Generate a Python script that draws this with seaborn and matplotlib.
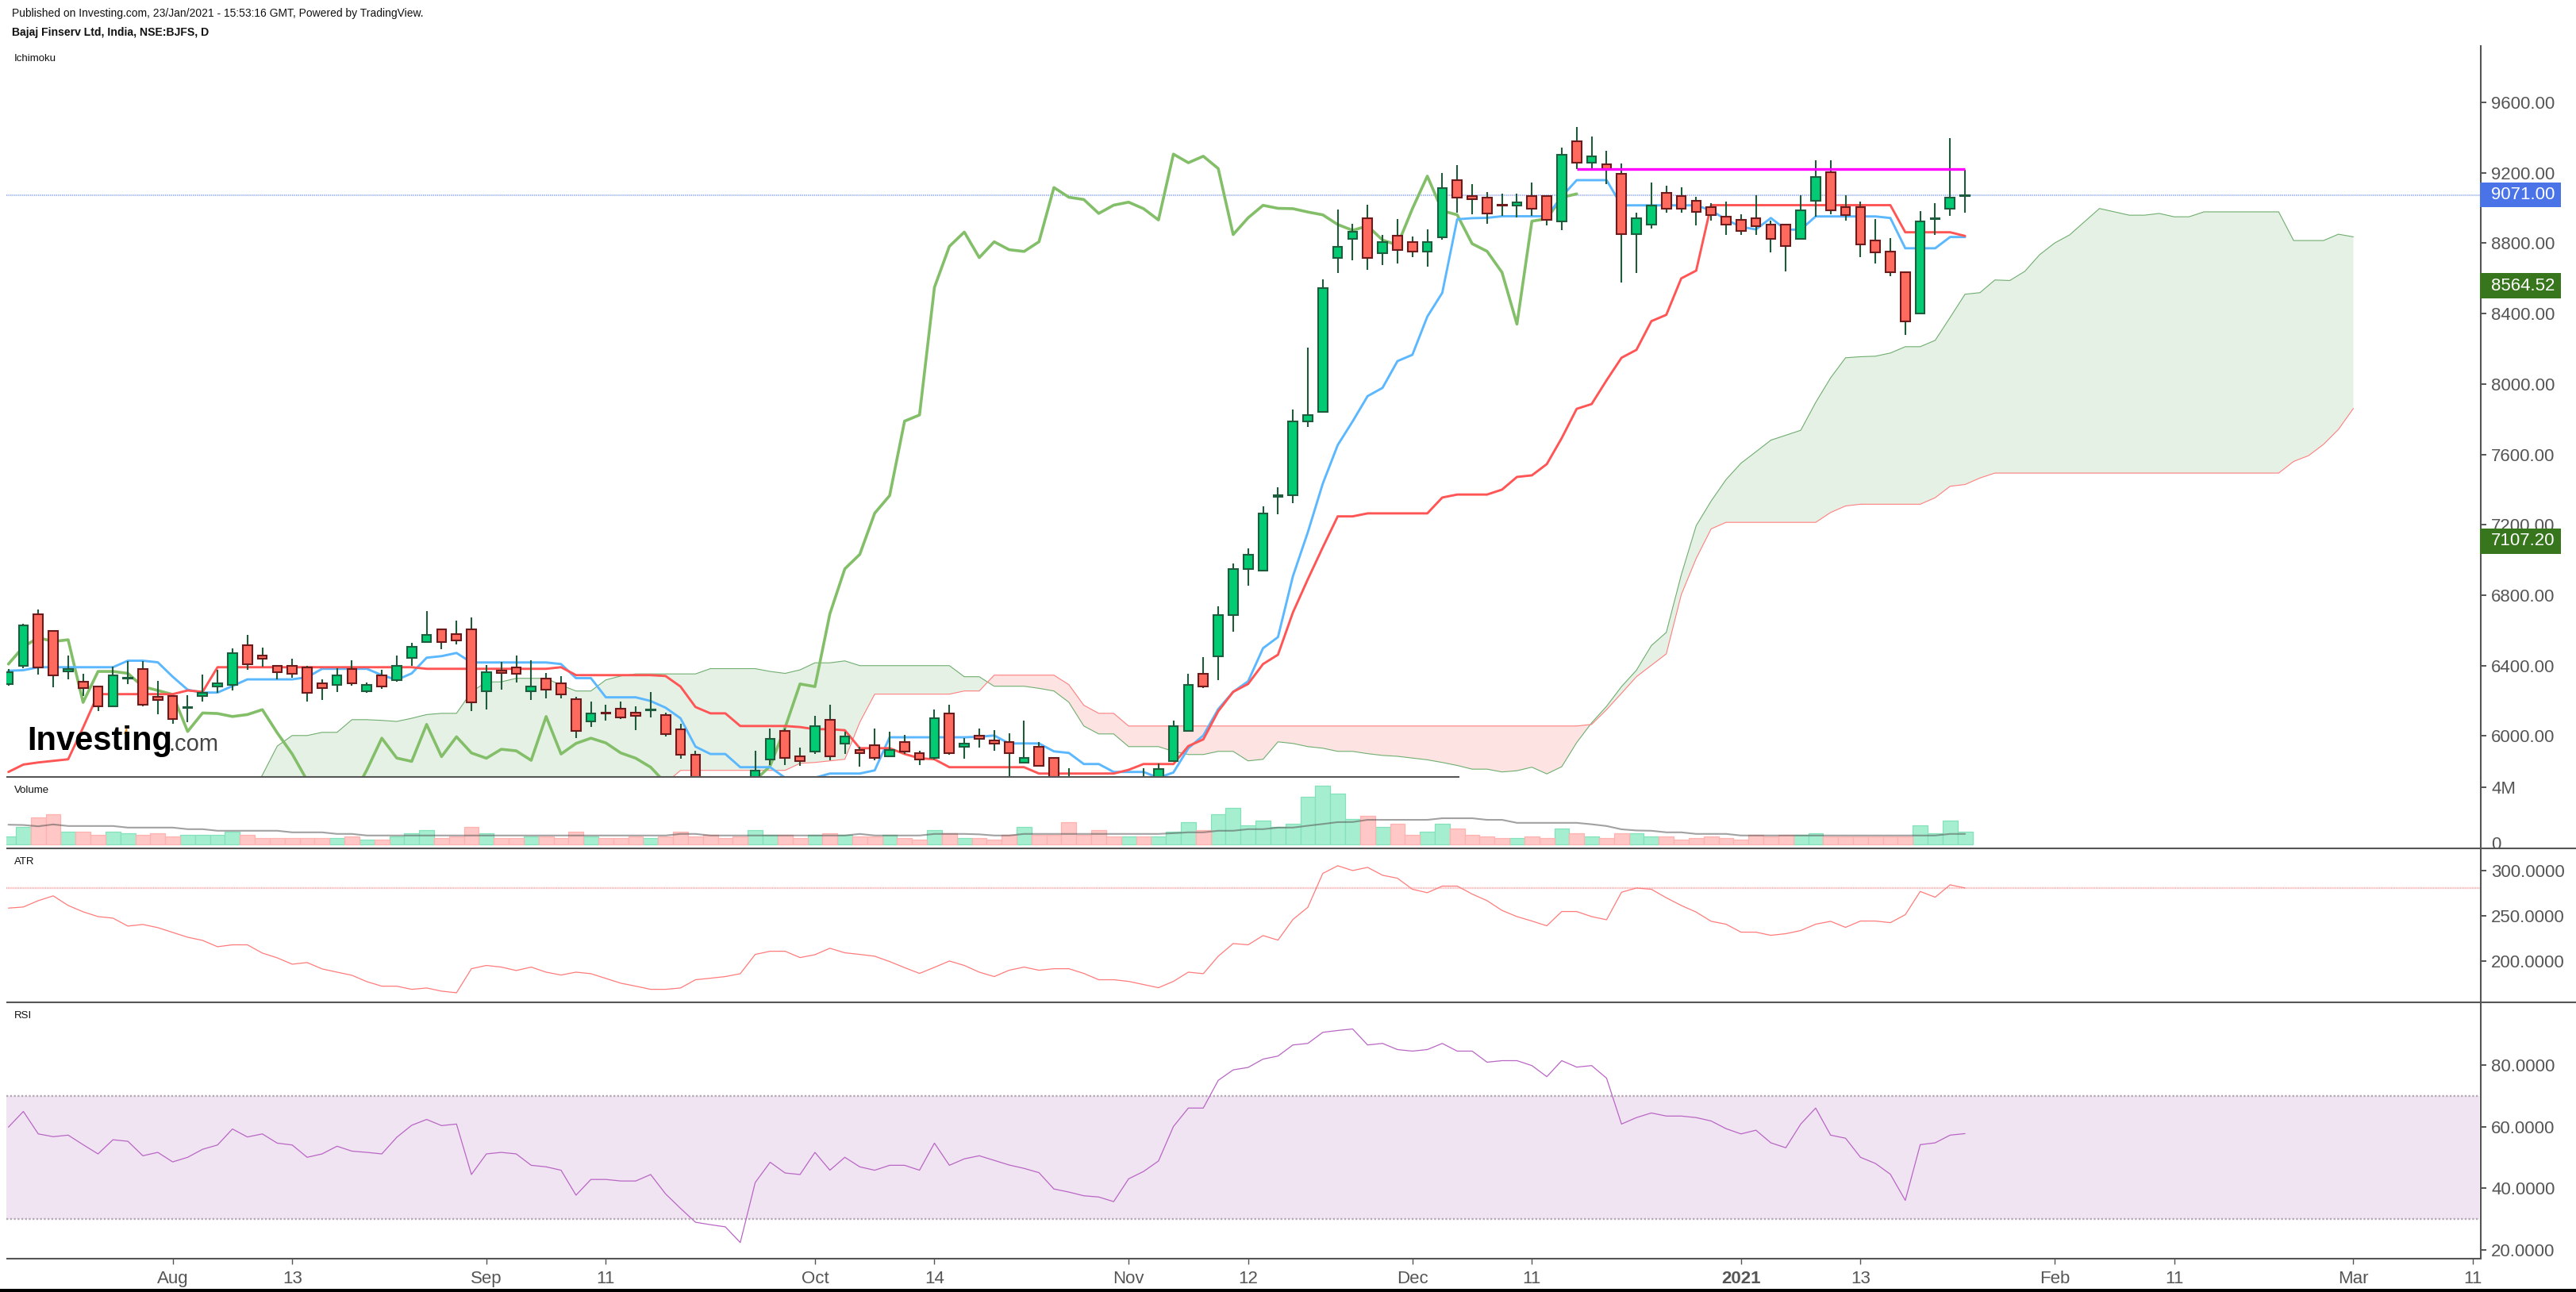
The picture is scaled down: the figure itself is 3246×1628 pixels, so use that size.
import numpy as np
import matplotlib
matplotlib.use("Agg")
import matplotlib.pyplot as plt
from matplotlib.lines import Line2D
from matplotlib.patches import Rectangle, Polygon
from matplotlib.transforms import Bbox, TransformedBbox
import seaborn as sns

# ---------- data ----------
opens = [6296,6397,6690,6598,6368,6310,6283,6171,6325,6382,
         6223,6229,6162,6226,6280,6289,6517,6456,6400,6400,
         6391,6301,6289,6382,6253,6346,6319,6442,6532,6607,
         6580,6607,6253,6374,6391,6253,6328,6301,6211,6081,
         6131,6156,6131,6145,6120,6039,5895,5700,5690,5680,
         5700,5868,6030,5886,5910,6093,5955,5922,5949,5883,
         5967,5904,5874,6129,5937,6003,5976,5967,5847,5940,
         5877,5720,5700,5690,5680,5640,5760,5740,5856,6027,
         6355,6451,6689,6948,6939,7360,7370,7786,7840,8715,
         8823,8942,8742,8842,8808,8751,8832,9158,9068,9060,
         9017,9013,9068,9068,8922,9377,9256,9250,9195,8850,
         8904,9087,9069,9042,9006,8952,8934,8943,8907,8907,
         8823,9039,9204,9006,9006,8817,8753,8636,8399,8939,
         8994,9070]
closes = [6364,6627,6388,6343,6383,6271,6171,6346,6330,6180,
          6206,6099,6166,6247,6301,6472,6406,6440,6361,6352,
          6244,6271,6346,6298,6292,6280,6400,6508,6573,6532,
          6541,6190,6364,6359,6352,6283,6262,6235,6027,6129,
          6127,6108,6116,6149,6009,5892,5733,5660,5650,5640,
          5805,5985,5874,5856,6057,5883,5996,5901,5874,5922,
          5910,5865,6102,5901,5958,5982,5955,5901,5877,5829,
          5733,5700,5660,5650,5640,5660,5748,5814,6057,6292,
          6280,6689,6951,7030,7265,7366,7788,7824,8546,8780,
          8863,8715,8808,8760,8751,8808,9113,9058,9048,8967,
          9013,9032,8994,8932,9303,9258,9294,9222,8850,8943,
          9015,8994,8994,8976,8958,8904,8868,8895,8823,8786,
          8988,9177,8985,8958,8795,8750,8633,8354,8925,8943,
          9060,9071]
highs = [6382,6637,6717,6598,6457,6356,6283,6394,6427,6427,
         6311,6229,6232,6349,6376,6499,6574,6502,6400,6439,
         6401,6322,6386,6430,6304,6376,6457,6529,6710,6607,
         6655,6673,6403,6421,6457,6430,6358,6340,6221,6196,
         6177,6196,6168,6250,6131,6069,5916,5730,5730,5730,
         5916,6041,6042,5934,6114,6176,6026,5940,6042,6024,
         6006,5916,6150,6176,5988,6042,6033,6015,6087,5967,
         5877,5815,5730,5730,5730,5700,5815,5844,6087,6356,
         6447,6737,6980,7068,7303,7412,7855,8206,8594,8991,
         8908,9018,8846,8936,8837,8880,9198,9243,9136,9091,
         9080,9080,9144,9068,9343,9460,9407,9324,9252,8973,
         9144,9126,9117,9063,9027,9036,8964,9072,8928,8907,
         9072,9270,9270,9072,9036,8937,8829,8636,8982,9027,
         9397,9216]
lows = [6286,6386,6349,6278,6323,6229,6143,6171,6296,6168,
        6123,6069,6078,6196,6247,6259,6376,6394,6322,6331,
        6196,6205,6250,6286,6244,6268,6307,6401,6532,6493,
        6520,6141,6150,6262,6304,6205,6214,6214,5988,6051,
        6087,6096,6033,6105,5997,5871,5690,5640,5640,5630,
        5690,5835,5835,5829,5898,5862,5898,5826,5862,5883,
        5898,5835,5865,5892,5871,5934,5916,5700,5847,5829,
        5680,5660,5640,5640,5630,5620,5700,5730,5856,6027,
        6271,6316,6592,6854,6939,7262,7322,7757,7840,8630,
        8703,8649,8677,8685,8720,8668,8822,8974,8963,8910,
        8953,8946,8953,8901,8875,9219,9219,9136,8576,8630,
        8883,8973,8973,8901,8928,8847,8847,8847,8747,8639,
        8823,8952,8964,8928,8720,8684,8612,8278,8399,8847,
        8955,8973]
tenkan = [6371,6374,6391,6391,6391,6391,6391,6391,6428,6428,
          6419,6337,6263,6247,6247,6284,6322,6322,6322,6322,
          6334,6382,6382,6382,6382,6346,6319,6356,6445,6454,
          6472,6418,6418,6418,6418,6418,6418,6409,6329,6329,
          6220,6220,6220,6199,6161,6101,5940,5898,5898,5823,
          5823,5823,5763,5700,5763,5787,5787,5787,5805,5993,
          5993,5993,5993,5993,5993,5996,6003,5958,5958,5958,
          5913,5904,5841,5841,5796,5796,5796,5763,5793,5931,
          6003,6153,6251,6311,6499,6562,6908,7158,7434,7653,
          7788,7931,7978,8130,8166,8383,8518,8936,8942,8944,
          8953,8953,8953,8953,9065,9158,9158,9158,9015,9015,
          9015,9015,9015,9015,8986,8934,8893,8878,8943,8877,
          8877,8952,8952,8952,8952,8952,8943,8771,8771,8771,
          8835,8835]
kijun = [5796,5838,5850,5859,5868,6048,6238,6238,6238,6238,
         6238,6238,6259,6251,6391,6391,6391,6391,6391,6391,
         6391,6391,6391,6391,6391,6391,6391,6391,6382,6382,
         6382,6382,6382,6382,6382,6382,6382,6391,6346,6346,
         6346,6346,6346,6346,6341,6281,6165,6129,6129,6057,
         6057,6057,6057,6051,6039,6039,6033,5931,5931,5931,
         5898,5874,5868,5823,5823,5823,5823,5823,5823,5787,
         5787,5787,5787,5787,5787,5808,5841,5841,5841,5943,
         5981,6141,6251,6296,6409,6462,6702,6891,7072,7248,
         7248,7265,7265,7265,7265,7265,7355,7372,7372,7372,
         7400,7472,7481,7545,7693,7859,7886,8021,8149,8194,
         8357,8393,8600,8644,9016,9016,9016,9016,9016,9016,
         9016,9016,9016,9016,9016,9016,9016,8862,8862,8862,
         8862,8841]
chikou = [6409,6507,6559,6537,6547,6191,6367,6367,6356,6281,
          6259,6236,6026,6131,6128,6111,6122,6150,6018,5898,
          5748,5650,5600,5650,5808,5988,5875,5856,6066,5883,
          5996,5904,5874,5925,5916,5862,6111,5898,5958,5988,
          5961,5904,5874,5823,5733,5650,5650,5650,5650,5650,
          5748,5830,6048,6296,6281,6695,6950,7032,7266,7366,
          7789,7824,8549,8782,8863,8718,8808,8763,8753,8808,
          9116,9061,9048,8969,9016,9033,8996,8932,9306,9257,
          9294,9224,8849,8944,9015,8998,8996,8977,8961,8906,
          8873,8898,8818,8789,8996,9181,8984,8961,8797,8754,
          8634,8340,8925,8939,9060,9080]
senkou_a = [5650,5650,5650,5650,5650,5650,5650,5650,5650,5650,
            5650,5650,5650,5650,5650,5650,5650,5778,5943,6003,
            6003,6021,6021,6093,6093,6089,6083,6101,6122,6129,
            6129,6251,6307,6308,6328,6328,6328,6289,6256,6256,
            6319,6341,6353,6353,6353,6353,6353,6383,6383,6383,
            6383,6367,6356,6376,6416,6416,6427,6400,6400,6400,
            6400,6400,6400,6400,6337,6337,6283,6283,6283,6271,
            6256,6192,6057,6012,6012,5940,5940,5940,5913,5895,
            5895,5913,5913,5859,5868,5967,5958,5940,5931,5913,
            5913,5900,5890,5885,5875,5865,5850,5833,5812,5812,
            5796,5803,5823,5785,5826,5963,6075,6169,6281,6374,
            6514,6589,6915,7195,7335,7457,7550,7615,7681,7709,
            7737,7895,8035,8149,8155,8158,8176,8212,8212,8248,
            8378,8510,8519,8591,8588,8640,8735,8801,8847,8922,
            8997,8978,8959,8959,8969,8950,8950,8978,8978,8978,
            8978,8978,8978,8815,8815,8815,8851,8836]
senkou_b = [5650,5650,5650,5650,5650,5650,5650,5650,5650,5650,
            5650,5650,5650,5650,5650,5650,5650,5650,5650,5650,
            5650,5650,5650,5650,5650,5650,5650,5650,5650,5650,
            5650,5650,5650,5650,5650,5650,5650,5650,5650,5650,
            5650,5650,5650,5650,5733,5805,5805,5805,5805,5805,
            5805,5805,5805,5845,5850,5859,5868,6078,6238,6238,
            6238,6238,6238,6238,6256,6256,6346,6346,6346,6346,
            6346,6292,6175,6129,6129,6057,6057,6057,6057,6057,
            6057,6057,6057,6057,6057,6057,6057,6057,6057,6057,
            6057,6057,6057,6057,6057,6057,6057,6057,6057,6057,
            6057,6057,6057,6057,6057,6057,6066,6150,6243,6337,
            6402,6467,6803,7009,7177,7214,7214,7214,7214,7214,
            7214,7214,7270,7307,7317,7317,7317,7317,7317,7354,
            7419,7429,7466,7494,7494,7494,7494,7494,7494,7494,
            7494,7494,7494,7494,7494,7494,7494,7494,7494,7494,
            7494,7494,7494,7560,7593,7657,7742,7861]
resistance = 9222
last_price = 9071.00
price_labels = ["8564.52", "7107.20"]
price_label_values = [8564.52, 7107.20]

volume_m = [.53,1.20,1.86,2.08,.87,.87,.65,.87,.76,.65,
            .76,.53,.65,.65,.65,.87,.65,.42,.42,.42,
            .42,.42,.42,.53,.31,.31,.53,.76,.98,.42,
            .53,1.20,.76,.42,.42,.53,.53,.42,.87,.53,
            .42,.42,.53,.42,.53,.87,.53,.65,.42,.53,
            .98,.65,.65,.42,.65,.76,.65,.53,.53,.65,
            .42,.31,.98,.76,.42,.42,.31,.65,1.20,.65,
            .65,1.53,.65,.98,.53,.53,.53,.53,.87,1.53,
            .98,2.08,2.53,1.31,1.64,1.20,1.42,3.30,4.08,3.52,
            1.75,1.97,1.20,1.42,.65,.87,1.42,1.09,.65,.53,
            .42,.42,.53,.42,1.09,.76,.53,.42,.76,.76,
            .53,.53,.31,.42,.53,.42,.31,.65,.53,.65,
            .65,.76,.53,.53,.53,.53,.53,.53,1.31,.76,
            1.64,.87]
volume_ma = [1.37,1.35,1.26,1.39,1.28,1.28,1.28,1.28,1.17,1.17,
             1.17,1.17,1.06,1.06,.95,.95,.95,.95,.95,.84,
             .84,.84,.73,.73,.62,.62,.62,.62,.62,.62,
             .62,.62,.62,.62,.62,.62,.62,.62,.62,.62,
             .62,.62,.62,.62,.62,.73,.73,.62,.62,.62,
             .62,.62,.62,.62,.62,.62,.62,.73,.62,.62,
             .62,.62,.73,.73,.73,.70,.62,.62,.73,.73,
             .73,.73,.73,.73,.73,.73,.73,.73,.78,.84,
             .84,.95,.95,1.06,1.06,1.17,1.17,1.30,1.42,1.55,
             1.56,1.71,1.71,1.71,1.71,1.71,1.82,1.82,1.82,1.71,
             1.71,1.50,1.50,1.50,1.50,1.50,1.40,1.28,1.05,.97,
             .95,.84,.84,.73,.73,.73,.62,.62,.62,.62,
             .62,.62,.62,.62,.62,.62,.62,.62,.62,.62,
             .73,.73]
atr = [258.3,259.5,266.5,271.8,261.2,254.2,248.9,247.2,238.4,240.2,
       236.7,231.4,226.1,222.6,215.6,217.7,217.7,208.6,203.3,196.3,
       198.1,191.1,187.5,184.0,177.0,172.0,172.0,168.5,170.0,166.5,
       164.7,191.3,194.9,193.1,189.3,193.1,187.5,184.3,187.5,185.8,
       180.5,175.3,172.0,168.5,168.5,170.0,179.1,180.8,182.6,185.8,
       207.1,210.6,210.6,203.6,206.8,213.9,208.9,207.1,205.1,199.2,
       192.5,186.1,192.8,199.8,194.9,187.5,182.6,189.6,193.1,189.6,
       191.3,191.3,186.1,179.1,179.1,177.3,173.8,170.3,177.3,187.5,
       185.8,205.1,219.1,217.7,227.9,222.9,245.7,259.2,296.6,305.1,
       299.8,303.3,294.6,291.3,279.1,275.3,282.6,282.6,273.8,266.5,
       255.7,248.9,244.0,238.7,254.5,254.5,248.9,245.4,275.8,280.5,
       279.1,269.7,261.2,253.9,243.7,240.5,231.7,231.7,228.2,230.0,
       233.5,240.5,243.7,237.0,244.0,244.0,242.2,251.0,276.7,270.3,
       284.0,280.5]
atr_last = 280.5
rsi = [59.9,65.0,57.7,56.8,57.3,54.2,51.2,55.8,55.3,50.6,
       51.7,48.6,50.1,52.7,54.1,59.3,56.7,57.7,54.7,54.1,
       50.1,51.2,53.7,52.1,51.7,51.2,56.6,60.5,62.4,60.4,
       60.9,44.5,51.2,51.7,51.2,47.5,47.0,45.9,37.8,42.9,
       42.9,42.4,42.4,44.5,38.2,33.5,29.0,28.2,27.5,22.4,
       41.9,48.5,45.0,44.5,51.7,45.9,50.1,47.0,45.9,47.5,
       47.5,45.9,54.7,47.5,49.6,50.6,49.1,47.6,46.5,45.1,
       39.8,38.8,37.6,37.2,35.7,43.1,45.5,48.9,60.1,66.1,
       66.1,75.1,78.5,79.3,82.0,83.0,86.6,87.1,90.7,91.3,
       91.8,86.6,87.1,85.1,84.6,85.1,87.1,84.6,84.6,81.0,
       81.5,81.5,79.9,76.3,81.5,79.4,79.9,75.8,60.9,63.0,
       64.5,63.5,63.5,63.0,61.9,59.4,57.7,58.9,54.8,53.2,
       60.9,66.1,57.3,56.3,50.1,48.1,44.6,36.1,54.2,54.8,
       57.3,57.8]

xtick_positions = [11, 19, 32, 40, 54, 62, 75, 83, 94, 102, 116, 124, 137, 145, 157, 165]
xtick_labels = ["Aug", "13", "Sep", "11", "Oct", "14", "Nov", "12", "Dec", "11",
                "2021", "13", "Feb", "11", "Mar", "11"]
price_ticks = [6000, 6400, 6800, 7200, 7600, 8000, 8400, 8800, 9200, 9600]
atr_ticks = [200, 250, 300]
rsi_ticks = [20, 40, 60, 80]

# ---------- style ----------
sns.set_theme(style="white")
plt.rcParams["font.family"] = ["Liberation Sans", "DejaVu Sans"]
W, H = 3246, 1628
AX = "#555555"
fig = plt.figure(figsize=(W / 100, H / 100), dpi=100, facecolor="white")
X0, X1 = 8, 3126
XLIM = (-0.138, 165.53)


def pane(y0, y1, ylim):
    ax = fig.add_axes([X0 / W, 1 - y1 / H, (X1 - X0) / W, (y1 - y0) / H])
    ax.set_xlim(*XLIM)
    ax.set_ylim(*ylim)
    for s in ("left", "top", "bottom"):
        ax.spines[s].set_visible(False)
    ax.spines["right"].set_color(AX)
    ax.spines["right"].set_linewidth(1.5)
    ax.yaxis.tick_right()
    ax.tick_params(axis="y", length=5, width=1.4, color=AX, labelcolor=AX, labelsize=16, pad=4.5, right=True, left=False)
    ax.set_xticks([])
    ax.set_facecolor("none")
    return ax


def hrule(x0, x1, y):
    fig.add_artist(Line2D([x0 / W, x1 / W], [1 - y / H, 1 - y / H], color=AX, lw=1.5, zorder=4, solid_capstyle="butt"))


def line(ax, xs, ys, **kw):
    sns.lineplot(x=np.asarray(xs), y=np.asarray(ys, float), ax=ax, estimator=None, sort=False, legend=False, errorbar=None, **kw)


ax_p = pane(58, 978.7, (5769, 9920))
ax_v = pane(980, 1068.7, (-0.26, 4.64))
ax_a = pane(1069, 1262.7, (154.4, 324.3))
ax_r = pane(1263, 1585.7, (17.24, 100.45))

# ---------- price pane ----------
ix = np.arange(len(opens))
cloud_x = np.arange(len(senkou_a))
a = np.array(senkou_a, float)
b = np.array(senkou_b, float)
ax_p.fill_between(cloud_x, a, b, where=a >= b, interpolate=True, color="#E6F1E5", lw=0, zorder=1)
ax_p.fill_between(cloud_x, a, b, where=a <= b, interpolate=True, color="#FEE3E3", lw=0, zorder=1)
line(ax_p, cloud_x, senkou_a, color="#6FAE6F", linewidth=0.8, zorder=2)
line(ax_p, cloud_x, senkou_b, color="#FF7F7F", linewidth=0.8, zorder=2)
line(ax_p, np.arange(len(chikou)), chikou, color="#83BE69", linewidth=2.6, zorder=3)
line(ax_p, ix, tenkan, color="#5BB8FF", linewidth=2.1, zorder=3)
line(ax_p, ix, kijun, color="#FF5555", linewidth=2.1, zorder=3)
ax_p.axhline(last_price, color="#A9BCF5", lw=1.5, ls=(0, (0.7, 0.5)), zorder=2)

o, c, hi, lo = map(lambda s: np.array(s, float), (opens, closes, highs, lows))
up = c >= o
ax_p.vlines(ix, lo, hi, color="#1F5A3A", lw=1.5, zorder=4)
body_b = np.minimum(o, c)
body_h = np.abs(c - o)
ax_p.bar(ix[up], body_h[up], bottom=body_b[up], width=0.62, color="#02CB73", edgecolor="#1D5C3D", linewidth=1.5, zorder=5)
ax_p.bar(ix[~up], body_h[~up], bottom=body_b[~up], width=0.62, color="#FF6A5E", edgecolor="#6B1B1B", linewidth=1.5, zorder=5)
ax_p.hlines(resistance, 105, 131, color="#FF00FF", lw=2.4, zorder=6)
ax_p.set_yticks(price_ticks)
ax_p.set_yticklabels([f"{v:.2f}" for v in price_ticks])

# ---------- volume pane ----------
vol = np.array(volume_m)
ax_v.bar(ix[up], vol[up], width=1.0, color="#A6EED0", edgecolor="#84E2BA", linewidth=0.9, zorder=2)
ax_v.bar(ix[~up], vol[~up], width=1.0, color="#FFC7C5", edgecolor="#FFB3B1", linewidth=0.9, zorder=2)
line(ax_v, ix, volume_ma, color="#555555", alpha=0.55, linewidth=1.5, zorder=3)
ax_v.set_yticks([4])
ax_v.set_yticklabels(["4M"])

# ---------- ATR pane ----------
ax_a.axhline(atr_last, color="#FFB0B0", lw=1.7, ls=(0, (0.5, 0.4)), zorder=1)
line(ax_a, ix, atr, color="#FF7B7B", linewidth=0.9, zorder=3)
ax_a.set_yticks(atr_ticks)
ax_a.set_yticklabels([f"{v:.4f}" for v in atr_ticks])

# ---------- RSI pane ----------
ax_r.axhspan(30, 70, xmax=0.9994, color="#F0E4F2", lw=0, zorder=1)
for lvl in (30, 70):
    ax_r.axhline(lvl, xmax=0.9994, color="#B5A9B6", lw=1.7, ls=(0, (1.0, 1.0)), zorder=2)
line(ax_r, ix, rsi, color="#B966C4", linewidth=0.9, zorder=3)
ax_r.set_yticks(rsi_ticks)
ax_r.set_yticklabels([f"{v:.4f}" for v in rsi_ticks])
ax_r.set_xticks(xtick_positions)
ax_r.set_xticklabels(xtick_labels)
ax_r.tick_params(axis="x", length=4.8, width=1.0, color=AX, labelcolor=AX, labelsize=16, pad=6, bottom=True)
for t in ax_r.get_xticklabels():
    if t.get_text() == "2021":
        t.set_fontweight("bold")

# ---------- rules ----------
hrule(X0, 1839, 978.7)
hrule(X0, W, 1068.7)
hrule(X0, W, 1262.7)
hrule(X0, X1, 1585.7)
fig.add_artist(Rectangle((0, 0), 1, 4 / H, transform=fig.transFigure, color="black", lw=0, zorder=8))


def ftext(x, y, s, **kw):
    return fig.text(x / W, 1 - y / H, s, va="center", zorder=7, **kw)


# ---------- zero label clipped by the pane rule ----------
z = ftext(3139, 1065, "0", color=AX, fontsize=16, ha="left")
z.set_clip_box(TransformedBbox(Bbox([[3130 / W, 1 - 1068 / H], [3240 / W, 1 - 1050 / H]]), fig.transFigure))
z.set_clip_on(True)

# ---------- price boxes ----------
for txt, y0, y1, col in [(f"{last_price:.2f}", 230, 261, "#4A73E8"),
                         (price_labels[0], 344, 376, "#38761D"),
                         (price_labels[1], 666, 698, "#38761D")]:
    fig.add_artist(Rectangle((3125 / W, 1 - y1 / H), 102 / W, (y1 - y0) / H, transform=fig.transFigure, color=col, lw=0, zorder=6))
    ftext(3139, (y0 + y1) / 2, txt, color="white", fontsize=16, ha="left")

# ---------- header & pane titles ----------
ftext(15, 17, "Published on Investing.com, 23/Jan/2021 - 15:53:16 GMT, Powered by TradingView.", fontsize=10, color="#111111")
ftext(15, 41, "Bajaj Finserv Ltd, India, NSE:BJFS, D", fontsize=10.1, color="#111111", fontweight="bold")
ftext(18, 74, "Ichimoku", fontsize=9.5, color="#111111")
ftext(18, 996, "Volume", fontsize=9.5, color="#111111")
ftext(18, 1086, "ATR", fontsize=9.5, color="#111111")
ftext(18, 1280, "RSI", fontsize=9.5, color="#111111")

# ---------- logo ----------
ftext(34, 934, "Investing", fontsize=30, color="black", fontweight="bold")
ftext(212, 938, ".com", fontsize=21, color="#444444")
fig.add_artist(Polygon([(156 / W, 1 - 925 / H), (161 / W, 1 - 925 / H), (160 / W, 1 - 914 / H)],
                       transform=fig.transFigure, color="#F2A33A", lw=0, zorder=7))

fig.savefig("out.png", dpi=100, facecolor="white")
